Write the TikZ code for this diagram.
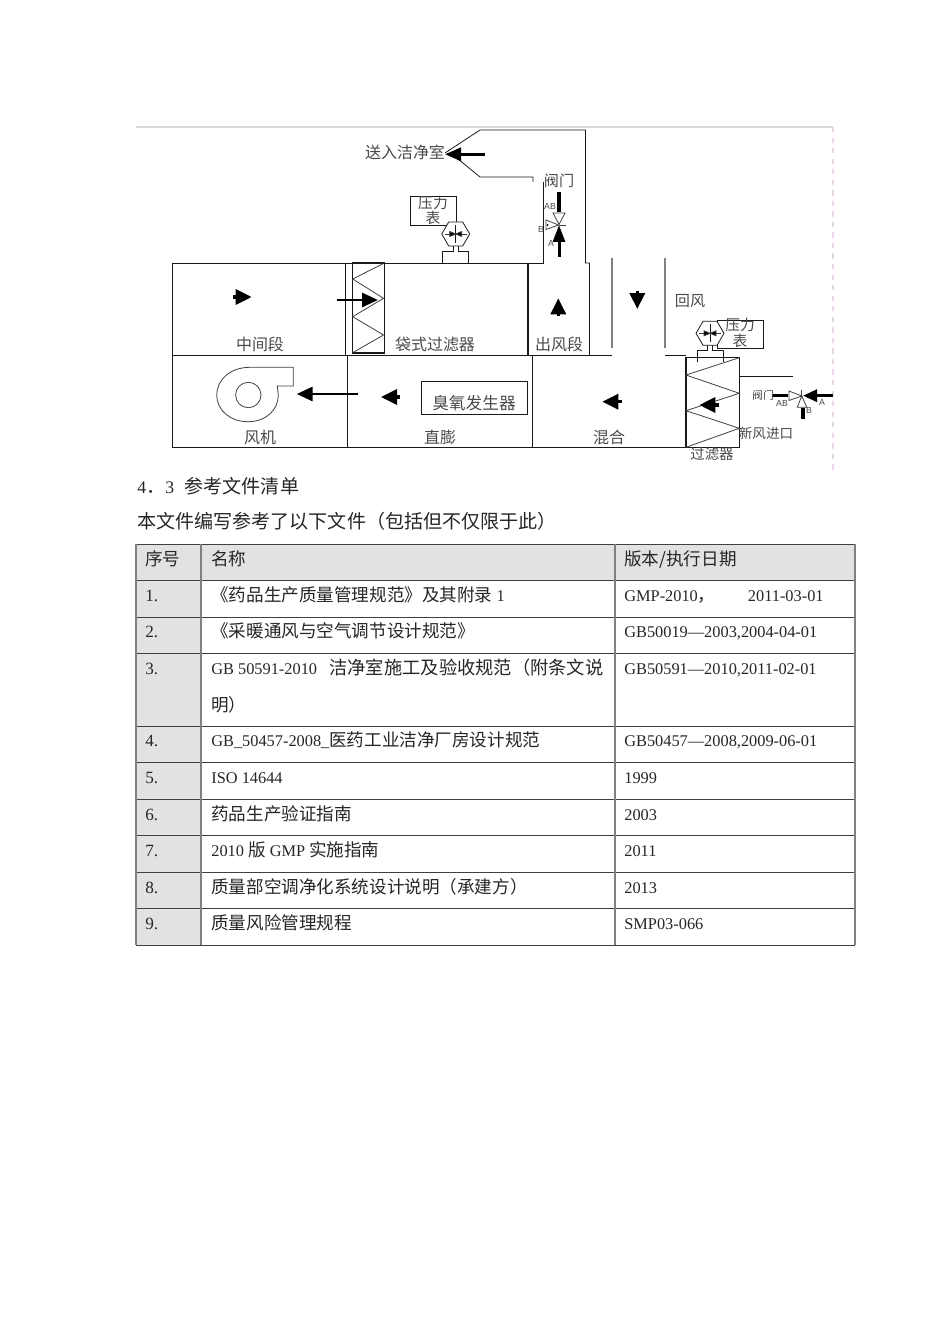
\documentclass[tikz,border=0pt]{standalone}
\usepackage{fontspec}
\setmainfont{Liberation Serif}[Scale=0.93]
\newfontfamily\cjk{Noto Sans CJK SC}
\newfontfamily\arial{Liberation Sans}
\usepackage{tikz}
\usetikzlibrary{arrows.meta}
\newcommand{\zh}[1]{{\cjk #1}}
\definecolor{labelgray}{HTML}{4A4A4A}
\definecolor{cellgray}{HTML}{E2E2E2}
\definecolor{rulegray}{HTML}{808080}
\definecolor{edgepink}{HTML}{EBD5EB}

\begin{document}
\begin{tikzpicture}[
  x=0.02cm, y=-0.02cm,
  wall/.style={draw=black!90, line width=0.45pt},
  thin wall/.style={draw=black!75, line width=0.45pt},
  rowline/.style={draw=black!75, line width=0.45pt},
  colline/.style={draw=rulegray, line width=0.7pt},
  lab/.style={font=\fontsize{#1}{12}\cjk, text=labelgray, inner sep=0pt},
  lab/.default=9.1,
  tinylab/.style={font=\fontsize{5}{6}\arial, text=labelgray, inner sep=0pt},
  cell/.style={font=\fontsize{10}{12}\selectfont, anchor=base west, inner sep=0pt, text=black!85},
  para/.style={font=\fontsize{10.85}{13}\selectfont, anchor=base west, inner sep=0pt, text=black!85},
  flow/.style={-{Triangle[length=3.2mm,width=3mm]}, line width=1.9pt, draw=black},
  flowlong/.style={-{Triangle[length=3.2mm,width=2.8mm]}, line width=1.7pt, draw=black},
  gauge/.pic={
    \draw[wall] (-2.5,12) -- (-2.5,17) -- (-13,17) -- (-13,29);
    \draw[wall] (2.5,12) -- (2.5,17) -- (13,17) -- (13,29);
    \draw[wall, fill=white] (-14,0) -- (-7,-12) -- (7,-12) -- (14,0) -- (7,12) -- (-7,12) -- cycle;
    \draw[thin wall] (-11,0) -- (11,0);
    \draw[wall] (0,-9) -- (0,9);
    \draw[thin wall, fill=black] (-6,-2.5) -- (0,0) -- (-6,2.5) -- cycle;
    \draw[thin wall, fill=black] (6,-2.5) -- (0,0) -- (6,2.5) -- cycle;
  }]
 \useasboundingbox (0,0) rectangle (950,1344);
 \fill[white] (0,0) rectangle (950,1344);
 % frame of the pasted drawing
 \draw[black!15, line width=0.8pt] (136,127) -- (833,127);
 \draw[edgepink, dashed, line width=0.6pt] (833,127) -- (833,470);
 % air handling sections
 \draw[wall] (172,263) -- (345.5,263) -- (345.5,355);
 \draw[wall] (172,263) -- (172,447.5) -- (686,447.5);
 \draw[wall] (347.5,355) -- (347.5,447.5);
 \draw[wall] (532.5,355) -- (532.5,447.5);
 \draw[wall] (172,355) -- (612,355);
 \draw[wall] (665,355) -- (686,355);
 \draw[wall] (345.5,263) -- (543.3,263) -- (543.3,182);
 \draw[wall, line width=0.9pt] (528,263) -- (528,355);
 \draw[wall] (589.5,355) -- (589.5,263) -- (585.5,263) -- (585.5,130) -- (480,130) -- (445,153);
 \draw[wall] (458,159) -- (480,177) -- (533,177) -- (533,182);
 \draw[rulegray, line width=0.8pt] (612,258) -- (612,348);
 \draw[rulegray, line width=0.8pt] (665,258) -- (665,348);
 % bag filter
 \draw[wall, line width=0.7pt] (352.7,263) rectangle (384.3,353);
 \draw[thin wall] (383.5,263.5) -- (352.7,279) -- (383.5,298.3) -- (352.7,316.7) -- (383.5,335) -- (352.7,352.7);
 % panel filter
 \draw[wall, line width=0.6pt] (686,357.5) rectangle (739.3,447.5);
 \draw[thin wall] (739.3,357.7) -- (686,375) -- (739.3,393.3) -- (686,410.7) -- (739.3,428.3) -- (686,447.3);
 \draw[wall] (739.3,376) -- (792.5,376);
 % fan
 \draw[thin wall] (293.3,367.3) -- (250,367.3) .. controls (230,367.3) and (216.7,380) .. (216.7,395)
   .. controls (216.7,410) and (230,421.7) .. (248,421.7) .. controls (266,421.7) and (278.3,410) .. (278.3,395)
   -- (277.3,386) -- (293.3,386) -- cycle;
 \draw[thin wall] (248.3,395) circle (12.7);
 % ozone unit
 \draw[wall] (421.7,381.7) rectangle (527.3,414.3);
 % pressure gauges
 \draw[wall] (410.7,196.7) rectangle (456.7,225);
 \pic at (455.7,234) {gauge};
 \draw[wall] (717.3,320) rectangle (763.3,348.3);
 \pic at (710,333.3) {gauge};
 % supply valve
 \draw[thin wall, fill=white] (553,213) -- (565,213) -- (559,224.5) -- cycle;
 \draw[thin wall, fill=white] (546,220) -- (546,229.5) -- (558.5,225) -- cycle;
 \fill[black] (547.5,225) circle (1);
 \draw[thin wall] (558.5,225) -- (565.5,225);
 \draw[line width=2.4pt] (559,192) -- (559,212);
 \draw[flowlong, -{Triangle[length=3.4mm,width=2.4mm]}] (559,257) -- (559,225);
 % fresh air valve
 \draw[line width=1.8pt] (771.7,395.7) -- (788,395.7);
 \draw[thin wall, fill=white] (789,391) -- (789,400.5) -- (801.7,396) -- cycle;
 \draw[thin wall, fill=white] (801.7,396) -- (797.3,407.3) -- (806.7,407.3) -- cycle;
 \draw[thin wall] (801.7,390) -- (801.7,396);
 \draw[line width=2.4pt] (802.7,408) -- (802.7,419.3);
 \draw[flowlong, -{Triangle[length=2.8mm,width=2.4mm]}] (833,395.7) -- (803,395.7);
 % air flow arrows
 \draw[flowlong, -{Triangle[length=3.2mm,width=2.6mm]}] (485,154.3) -- (445,154.3);
 \draw[flow] (233,297) -- (251.7,297);
 \draw[flowlong] (336.7,300) -- (378,300);
 \draw[flow] (558.3,316) -- (558.3,298.3);
 \draw[flow] (637.3,291) -- (637.3,309);
 \draw[flowlong] (357.7,394) -- (296.7,394);
 \draw[flow] (400,397) -- (381,397);
 \draw[flow] (622,401.7) -- (602.3,401.7);
 \draw[flow] (719,405) -- (699.3,405);
 % diagram labels
 \node[lab] (lcr) at (405,152) {送入洁净室};
 \node[lab=8.6] (lv1) at (559,181) {阀门};
 \node[lab=8.4] (lg1a) at (433,203) {压力};
 \node[lab=8.4] (lg1b) at (433,218) {表};
 \node[tinylab] (lab1) at (550,206) {AB};
 \node[tinylab] (lb1) at (541,229) {B};
 \node[tinylab] (la1) at (551,243) {A};
 \node[lab] (lmid) at (260,344) {中间段};
 \node[lab] (lbag) at (435,344) {袋式过滤器};
 \node[lab] (lout) at (559,344) {出风段};
 \node[lab=8.6] (lret) at (690,301) {回风};
 \node[lab=8.4] (lg2a) at (740,325) {压力};
 \node[lab=8.4] (lg2b) at (740,341) {表};
 \node[lab] (lfan) at (260,437) {风机};
 \node[lab] (ldx) at (440,437) {直膨};
 \node[lab=9.5] (loz) at (474,403.5) {臭氧发生器};
 \node[lab] (lmix) at (609,437) {混合};
 \node[lab=8.2] (lfil) at (712,454) {过滤器};
 \node[lab=7.7] (lnew) at (766,433) {新风进口};
 \node[lab=6.2] (lv2) at (763,395) {阀门};
 \node[tinylab] (lab2) at (782,403) {AB};
 \node[tinylab] (la2) at (822,402) {A};
 \node[tinylab] (lb2) at (809,410) {B};
 % text above the table
 \node[para] (head) at (137,493) {4\zh{．}3\hspace{6pt}\zh{参考文件清单}};
 \node[para] (intro) at (137,528) {\zh{本文件编写参考了以下文件（包括但不仅限于此）}};
 % table
 \fill[cellgray] (136,544) rectangle (855,580);
 \fill[cellgray] (136,580) rectangle (201,945);
 \draw[rowline] (136,544) -- (855,544);
 \draw[rowline] (136,580) -- (855,580);
 \draw[rowline] (136,617) -- (855,617);
 \draw[rowline] (136,653) -- (855,653);
 \draw[rowline] (136,726) -- (855,726);
 \draw[rowline] (136,762) -- (855,762);
 \draw[rowline] (136,799) -- (855,799);
 \draw[rowline] (136,835) -- (855,835);
 \draw[rowline] (136,872) -- (855,872);
 \draw[rowline] (136,908) -- (855,908);
 \draw[rowline] (136,945) -- (855,945);
 \draw[colline] (136,544) -- (136,945);
 \draw[colline] (201,544) -- (201,945);
 \draw[colline] (615,544) -- (615,945);
 \draw[colline] (855,544) -- (855,945);
 % table header
 \node[cell] (th1) at (145,565) {\zh{序号}};
 \node[cell] (th2) at (211,565) {\zh{名称}};
 \node[cell] (th3) at (624,565) {\zh{版本/执行日期}};
 % first column
 \node[cell] (n1) at (145,601) {\fontsize{10.5}{12}\selectfont 1.};
 \node[cell] (n2) at (145,637) {\fontsize{10.5}{12}\selectfont 2.};
 \node[cell] (n3) at (145,674) {\fontsize{10.5}{12}\selectfont 3.};
 \node[cell] (n4) at (145,746) {\fontsize{10.5}{12}\selectfont 4.};
 \node[cell] (n5) at (145,783) {\fontsize{10.5}{12}\selectfont 5.};
 \node[cell] (n6) at (145,820) {\fontsize{10.5}{12}\selectfont 6.};
 \node[cell] (n7) at (145,856) {\fontsize{10.5}{12}\selectfont 7.};
 \node[cell] (n8) at (145,893) {\fontsize{10.5}{12}\selectfont 8.};
 \node[cell] (n9) at (145,929) {\fontsize{10.5}{12}\selectfont 9.};
 % second column
 \node[cell] (t1) at (211,601) {\zh{《药品生产质量管理规范》及其附录} 1};
 \node[cell] (t2) at (211,637) {\zh{《采暖通风与空气调节设计规范》}};
 \node[cell] (t3a) at (211,674) {GB 50591-2010\hspace{7pt}{\fontsize{10.4}{12}\cjk 洁净室施工及验收规范（附条文说}};
 \node[cell] (t3b) at (211,711) {\zh{明）}};
 \node[cell] (t4) at (211,746) {GB\_50457-2008\_\zh{医药工业洁净厂房设计规范}};
 \node[cell] (t5) at (211,783) {ISO 14644};
 \node[cell] (t6) at (211,820) {\zh{药品生产验证指南}};
 \node[cell] (t7) at (211,856) {2010 \zh{版} GMP \zh{实施指南}};
 \node[cell] (t8) at (211,893) {\zh{质量部空调净化系统设计说明（承建方）}};
 \node[cell] (t9) at (211,929) {\zh{质量风险管理规程}};
 % third column
 \node[cell] (v1) at (624,601) {GMP-2010\zh{，}\hspace{18.5pt}2011-03-01};
 \node[cell] (v2) at (624,637) {GB50019—2003,2004-04-01};
 \node[cell] (v3) at (624,674) {GB50591—2010,2011-02-01};
 \node[cell] (v4) at (624,746) {GB50457—2008,2009-06-01};
 \node[cell] (v5) at (624,783) {1999};
 \node[cell] (v6) at (624,820) {2003};
 \node[cell] (v7) at (624,856) {2011};
 \node[cell] (v8) at (624,893) {2013};
 \node[cell] (v9) at (624,929) {SMP03-066};
\end{tikzpicture}
\end{document}
